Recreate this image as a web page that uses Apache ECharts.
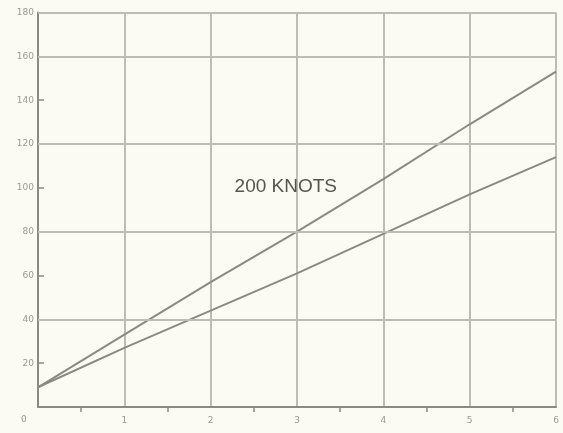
<!DOCTYPE html>
<html>
<head>
<meta charset="utf-8">
<style>
  html, body { margin: 0; padding: 0; background: #fcfbf3; }
  #chart { width: 563px; height: 433px; }
</style>
<script src="https://cdn.jsdelivr.net/npm/echarts@6/dist/echarts.min.js"></script>
</head>
<body>
<div id="chart"></div>
<script>
// Distance (x) against value (y), two straight-line series
const xValues = [0, 1, 2, 3, 4, 5, 6];
const upperLine = [9, 33, 57, 80, 104, 129, 153];
const lowerLine = [9, 27, 44, 61, 79, 97, 114];
const gridValuesY = [40, 80, 120, 160, 180];
const annotation = '200 KNOTS';

const lineColor = '#8a8a84';
const gridColor = '#bdbdb4';
const labelColor = '#9a9a92';

const chart = echarts.init(document.getElementById('chart'), null, { renderer: 'canvas' });

function pairs(ys) {
  return xValues.map((x, i) => [x, ys[i]]);
}

chart.setOption({
  backgroundColor: '#fcfbf3',
  animation: false,
  grid: { left: 38, right: 7, top: 12.5, bottom: 26 },
  xAxis: {
    type: 'value',
    min: 0, max: 6, interval: 1,
    axisLine: { show: true, lineStyle: { color: lineColor, width: 2 } },
    axisTick: { show: false },
    minorTick: { show: true, splitNumber: 2, length: 5, lineStyle: { color: lineColor, width: 1.5 } },
    axisLabel: {
      margin: 9, fontSize: 9, color: labelColor, fontFamily: 'DejaVu Sans',
      formatter: v => (v === 0 ? '' : String(v))
    },
    splitLine: { show: true, lineStyle: { color: gridColor, width: 2 } }
  },
  yAxis: {
    type: 'value',
    min: 0, max: 180, interval: 20,
    axisLine: { show: true, lineStyle: { color: lineColor, width: 2 } },
    axisTick: { show: true, inside: true, length: 6, lineStyle: { color: lineColor, width: 1.5 } },
    axisLabel: {
      margin: 4, fontSize: 9, color: labelColor, fontFamily: 'DejaVu Sans',
      formatter: v => (v === 0 ? '' : String(v))
    },
    splitLine: { show: false }
  },
  graphic: [
    {
      type: 'text', left: 21, top: 415,
      style: { text: '0', fontSize: 9, fill: labelColor, fontFamily: 'DejaVu Sans' }
    }
  ],
  series: [
    {
      type: 'line',
      data: pairs(upperLine),
      symbol: 'none',
      lineStyle: { color: lineColor, width: 2 },
      z: 3,
      markLine: {
        silent: true,
        symbol: 'none',
        label: { show: false },
        lineStyle: { color: gridColor, width: 2, type: 'solid' },
        data: gridValuesY.map(v => ({ yAxis: v }))
      }
    },
    {
      type: 'line',
      data: pairs(lowerLine),
      symbol: 'none',
      lineStyle: { color: lineColor, width: 2 },
      z: 3,
      markPoint: {
        silent: true,
        symbol: 'circle',
        symbolSize: 1,
        itemStyle: { color: 'rgba(0,0,0,0)' },
        label: {
          show: true, position: 'inside', formatter: annotation, fontSize: 19,
          color: '#55554f', fontFamily: 'Liberation Sans'
        },
        data: [{ coord: [2.87, 100.5] }]
      }
    }
  ]
});
</script>
</body>
</html>
